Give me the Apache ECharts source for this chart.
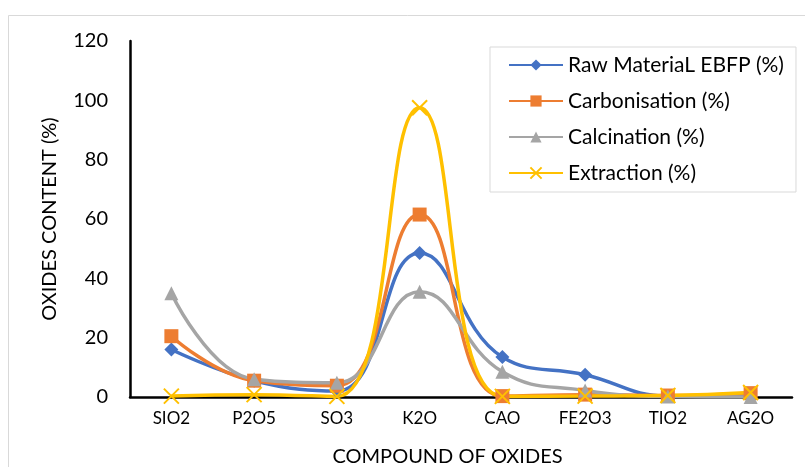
<!DOCTYPE html>
<html>
<head>
<meta charset="utf-8">
<script src="https://cdn.jsdelivr.net/npm/echarts@6/dist/echarts.min.js"></script>
<style>
  html, body { margin: 0; padding: 0; background: #fff; }
  #chart { width: 805px; height: 467px; }
</style>
</head>
<body>
<div id="chart"></div>
<script>
// categories on the x axis
var compounds = ["SIO2", "P2O5", "SO3", "K2O", "CAO", "FE2O3", "TIO2", "AG2O"];
// values (%)
var rawMaterial = [16, 5.5, 2, 48.5, 13.5, 7.5, 0.3, 0.2];
var carbonisation = [20.5, 5.5, 3.8, 61.5, 0.3, 0.8, 0.5, 1.3];
var calcination = [35, 6, 4.8, 35.5, 8.5, 2.2, 0.2, 0];
var extraction = [0.3, 0.8, 0.2, 97.5, 0.2, 0.3, 0.5, 1.5];
var yTicks = { min: 0, max: 120, step: 20 };

var font = "Lato, 'Open Sans', sans-serif";
var chart = echarts.init(document.getElementById("chart"));

function line(name, data, color, symbol, size) {
  return {
    name: name,
    type: "line",
    data: data,
    smooth: 0.45,
    symbol: symbol,
    symbolSize: size,
    lineStyle: { color: color, width: 3.5 },
    itemStyle: { color: color, borderColor: color, borderWidth: symbol.indexOf("path") === 0 ? 2 : 0 },
    z: 3
  };
}

var option = {
  animation: false,
  backgroundColor: "#fff",
  graphic: [
    {
      type: "rect",
      shape: { x: 8.5, y: 15.5, width: 820, height: 480 },
      style: { fill: "none", stroke: "#d9d9d9", lineWidth: 1 },
      silent: true
    }
  ],
  // plot area fixed to the picture, names may sit outside it
  grid: { left: 130, right: 13, top: 41, bottom: 70, containLabel: false, outerBoundsMode: "none" },
  legend: {
    orient: "vertical",
    left: 490,
    top: 47,
    width: 305,
    padding: [7, 12, 8, 18],
    itemGap: 14,
    itemWidth: 54,
    itemHeight: 14,
    borderColor: "#d9d9d9",
    borderWidth: 1,
    backgroundColor: "#fff",
    textStyle: { fontFamily: font, fontSize: 21, lineHeight: 22, color: "#000" },
    data: ["Raw MateriaL EBFP (%)", "Carbonisation (%)", "Calcination (%)", "Extraction (%)"]
  },
  xAxis: {
    type: "category",
    data: compounds,
    boundaryGap: true,
    name: "COMPOUND OF OXIDES",
    nameLocation: "middle",
    nameGap: 50,
    nameTextStyle: { fontFamily: font, fontSize: 20, color: "#000", padding: [0, 27, 0, 0] },
    axisLine: { lineStyle: { color: "#000", width: 2.5 } },
    axisTick: { show: false },
    axisLabel: { fontFamily: font, fontSize: 17, color: "#000", margin: 13 },
    splitLine: { show: false }
  },
  yAxis: {
    type: "value",
    min: yTicks.min,
    max: yTicks.max,
    interval: yTicks.step,
    name: "OXIDES CONTENT (%)",
    nameLocation: "middle",
    nameGap: 70,
    nameRotate: 90,
    nameTextStyle: { fontFamily: font, fontSize: 20, color: "#000" },
    axisLine: { show: true, lineStyle: { color: "#000", width: 2.5 } },
    axisTick: { show: false },
    axisLabel: { fontFamily: font, fontSize: 20, color: "#000", margin: 22 },
    splitLine: { show: false }
  },
  series: [
    line("Raw MateriaL EBFP (%)", rawMaterial, "#4472C4", "diamond", 14),
    line("Carbonisation (%)", carbonisation, "#ED7D31", "rect", 14),
    line("Calcination (%)", calcination, "#A5A5A5", "triangle", 14),
    line("Extraction (%)", extraction, "#FFC000", "path://M0,0L10,10M10,0L0,10", 15)
  ]
};
chart.setOption(option);
</script>
</body>
</html>
